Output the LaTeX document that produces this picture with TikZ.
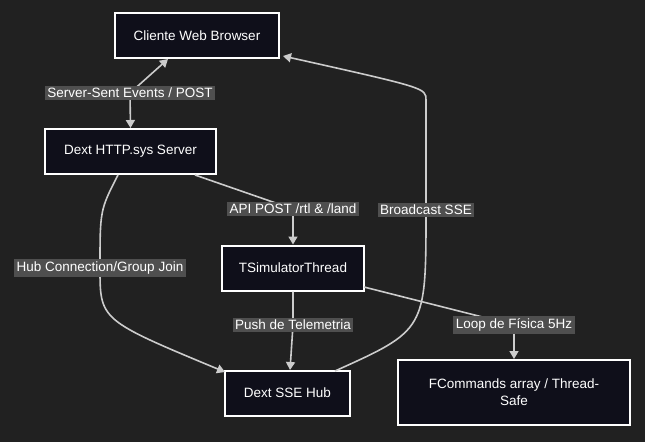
\documentclass[tikz,border=0pt]{standalone}
\usepackage{fontspec}
\setmainfont{Liberation Sans}
\usetikzlibrary{arrows.meta}
\definecolor{bgdark}{HTML}{212121}
\definecolor{boxfill}{HTML}{0F0F1A}
\definecolor{wire}{HTML}{CCCCCC}
\definecolor{tagbg}{HTML}{4F4F4F}
\tikzset{
  box/.style={draw=white,line width=2pt,fill=boxfill,text=white,minimum height=45pt,inner sep=0pt,align=center},
  link/.style={draw=wire,line width=1.6pt,-{Triangle[length=8pt,width=9pt]}},
  tag/.style={fill=tagbg,text=white,inner sep=2.5pt}
}
\begin{document}
\begin{tikzpicture}[x=1pt,y=-1pt,font=\fontsize{13.5}{17}\selectfont]
\fill[bgdark] (0,0) rectangle (645,442);
\useasboundingbox (0,0) rectangle (645,442);

\node[box,minimum width=164pt] (web) at (197,35.5) {Cliente Web Browser};
\node[box,minimum width=171pt] (http) at (130.5,151.5) {Dext HTTP.sys Server};
\node[box,minimum width=142pt] (sim) at (293,268) {TSimulatorThread};
\node[box,minimum width=125pt] (hub) at (287.5,393) {Dext SSE Hub};
\node[box,minimum width=232pt,minimum height=65pt] (cmd) at (514,392.5) {FCommands array / Thread-\\Safe};

\coordinate (k1) at (130,93);
\coordinate (k2) at (293,209);
\coordinate (k3) at (100,268);
\coordinate (k4) at (293,325);
\coordinate (k5) at (514,325);
\coordinate (k6) at (426,210);

\draw[link] (k1) -- (168,59);
\draw[link] (k1) -- (http.north);
\draw[link] (195,175) -- (k2) -- (sim.north);
\draw[link] (118,175) .. controls (100,210) .. (k3) .. controls (100,320) .. (225,372);
\draw[link] (sim.south) -- (k4) -- (290,370);
\draw[link] (364,287) -- (k5) -- (cmd.north);
\draw[link] (335,371) .. controls (426,330) .. (k6) -- (426,100) .. controls (426,88) .. (283,56);

\node[tag] (t1) at (k1) {Server-Sent Events / POST};
\node[tag] (t2) at (k2) {API POST /rtl \& /land};
\node[tag] (t3) at (k3) {Hub Connection/Group Join};
\node[tag] (t4) at (k4) {Push de Telemetria};
\node[tag] (t5) at (k5) {Loop de Física 5Hz};
\node[tag] (t6) at (k6) {Broadcast SSE};
\end{tikzpicture}
\end{document}
